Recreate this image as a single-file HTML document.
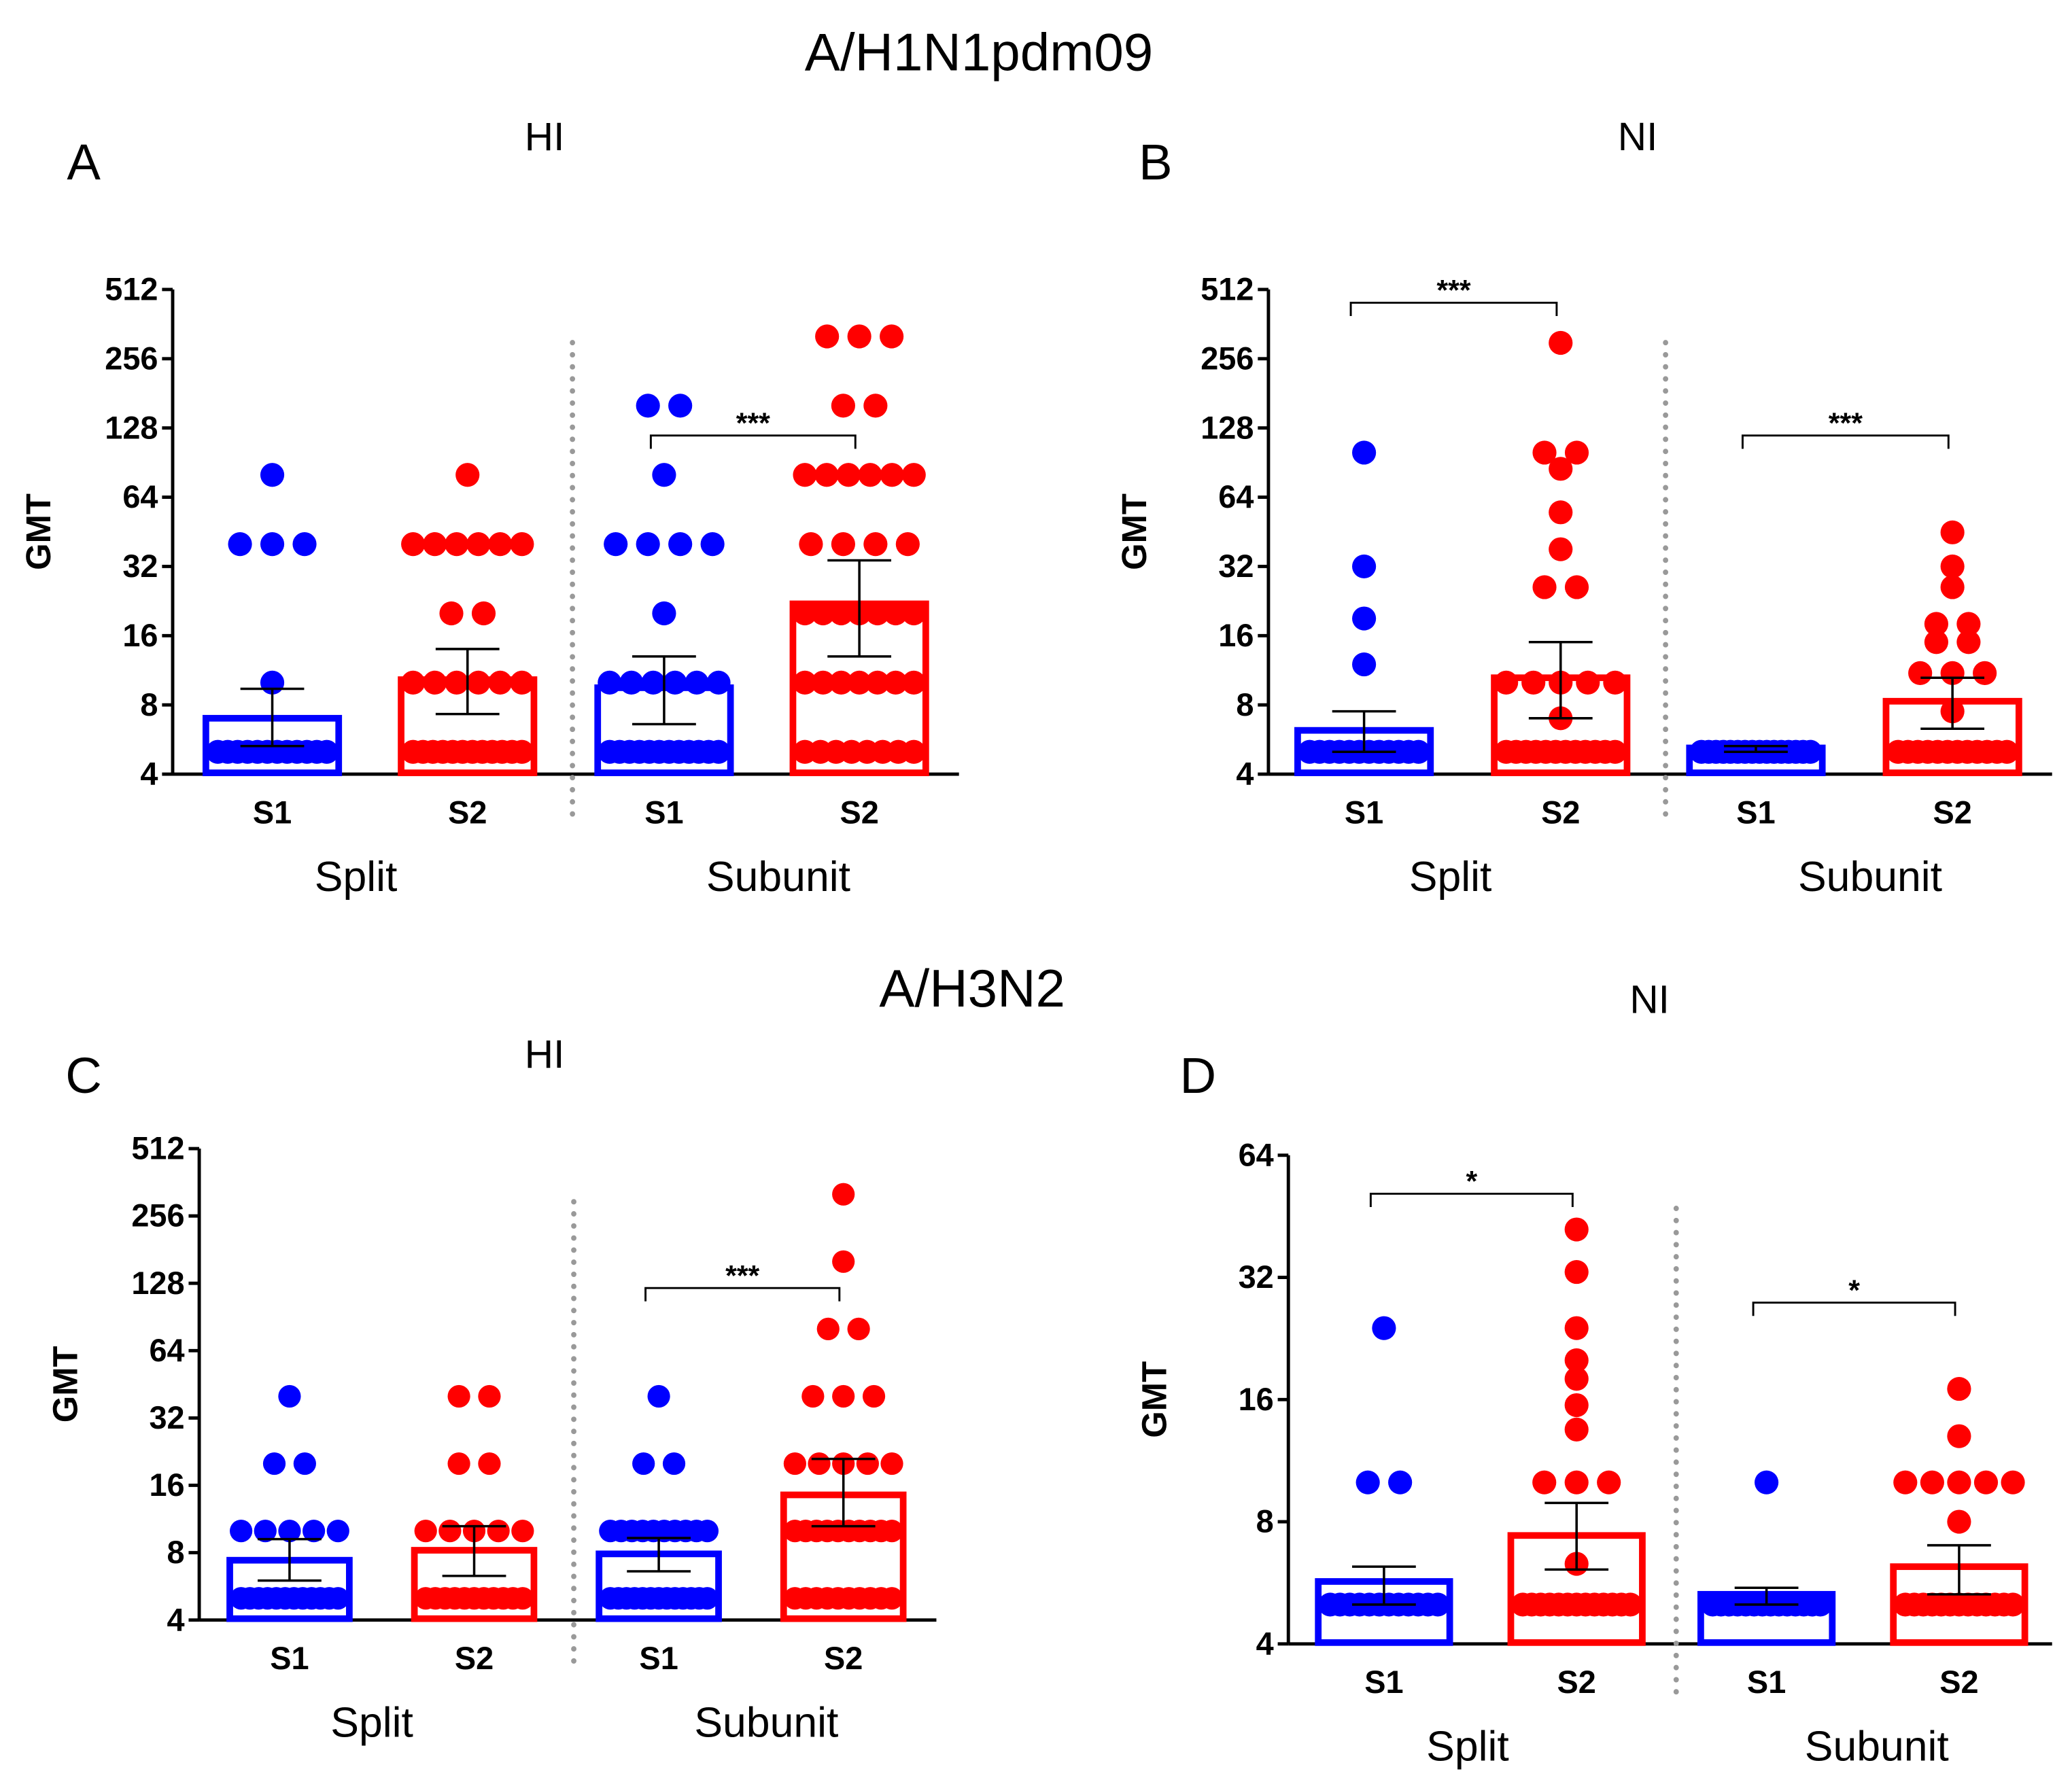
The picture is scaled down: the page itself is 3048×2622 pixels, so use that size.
<!DOCTYPE html>
<html><head><meta charset="utf-8"><style>
html,body{margin:0;padding:0;background:#fff}
svg{display:block}
text{font-family:"Liberation Sans",sans-serif}
</style></head><body>
<svg id="fig" width="3048" height="2622" viewBox="0 0 1560 1342" preserveAspectRatio="none" xmlns="http://www.w3.org/2000/svg">
<text x="737" y="53" font-size="40" text-anchor="middle">A/H1N1pdm09</text>
<text x="732" y="758" font-size="40" text-anchor="middle">A/H3N2</text>
<text x="63" y="135" font-size="38" text-anchor="middle">A</text>
<text x="870" y="135" font-size="38" text-anchor="middle">B</text>
<text x="63" y="823" font-size="38" text-anchor="middle">C</text>
<text x="902" y="823" font-size="38" text-anchor="middle">D</text>
<text x="410" y="113" font-size="30" text-anchor="middle">HI</text>
<text x="1233" y="113" font-size="30" text-anchor="middle">NI</text>
<text x="410" y="804" font-size="30" text-anchor="middle">HI</text>
<text x="1242" y="763" font-size="30" text-anchor="middle">NI</text>
</svg>
<script>
// categories
const groupLabels = ["S1","S2","S1","S2"];
const blockLabels = ["Split","Subunit"];
const colors = ["#0000ff","#ff0000","#0000ff","#ff0000"];
// tick labels
const ticksBig = [4,8,16,32,64,128,256,512];
const ticksD = [4,8,16,32,64];
// Panel A
const aMeans = [7, 10.3, 9.5, 22];
const aLow = [5.3, 7.3, 6.6, 13];
const aHigh = [9.4, 14, 13, 34];
const aDots = [
  [80,40,40,40,10,5,5,5,5,5,5,5,5,5,5,5,5],
  [80,40,40,40,40,40,40,20,20,10,10,10,10,10,10,5,5,5,5,5,5,5,5,5,5,5,5],
  [160,160,80,40,40,40,40,20,10,10,10,10,10,10,5,5,5,5,5,5,5,5,5,5,5,5],
  [320,320,320,160,160,80,80,80,80,80,80,40,40,40,40,20,20,20,20,20,20,20,10,10,10,10,10,10,10,5,5,5,5,5,5,5,5]
];
// Panel B
const bMeans = [6.2, 10.5, 5.2, 8.3];
const bLow = [5, 7, 5, 6.3];
const bHigh = [7.5, 15, 5.3, 10.5];
const bDots = [
  [100,32,19,12,5,5,5,5,5,5,5,5,5,5,5,5],
  [300,100,100,85,55,38,26,26,10,10,10,10,10,7,5,5,5,5,5,5,5,5,5,5,5,5],
  [5,5,5,5,5,5,5,5,5,5,5,5,5,5,5,5],
  [45,32,26,18,18,15,15,11,11,11,7.5,5,5,5,5,5,5,5,5,5,5,5,5]
];
// Panel C
const cMeans = [7.4, 8.2, 7.9, 14.5];
const cLow = [6, 6.3, 6.6, 10.5];
const cHigh = [9.2, 10.5, 9.3, 21];
const cDots = [
  [40,20,20,10,10,10,10,10,5,5,5,5,5,5,5,5,5,5,5,5],
  [40,40,20,20,10,10,10,10,10,5,5,5,5,5,5,5,5,5,5,5],
  [40,20,20,10,10,10,10,10,10,10,10,10,10,5,5,5,5,5,5,5,5,5,5,5,5,5],
  [320,160,80,80,40,40,40,20,20,20,20,20,10,10,10,10,10,10,10,10,10,10,5,5,5,5,5,5,5,5,5,5]
];
// Panel D
const dMeans = [5.7, 7.4, 5.3, 6.2];
const dLow = [5, 6.1, 5, 5.3];
const dHigh = [6.2, 8.9, 5.5, 7];
const dDots = [
  [24,10,10,5,5,5,5,5,5,5,5,5,5,5,5],
  [42,33,24,20,18,15.5,13.5,10,10,10,6.3,5,5,5,5,5,5,5,5,5,5,5,5,5],
  [10,5,5,5,5,5,5,5,5,5,5,5,5,5,5],
  [17,13,10,10,10,10,10,8,5,5,5,5,5,5,5,5,5,5,5,5,5]
];
const sigA = [[2,3,"***"]];
const sigB = [[0,1,"***"],[2,3,"***"]];
const sigC = [[2,3,"***"]];
const sigD = [[0,1,"*"],[2,3,"*"]];

const NS="http://www.w3.org/2000/svg";
const svg=document.getElementById('fig');
function mk(tag,attrs,parent){const e=document.createElementNS(NS,tag);for(const k in attrs)e.setAttribute(k,attrs[k]);(parent||svg).appendChild(e);return e;}

function panel(id,cfg,means,low,high,dots,sigs,ticks){
  const g=mk('g',{});
  
  
  const lmin=Math.log2(ticks[0]),lmax=Math.log2(ticks[ticks.length-1]);
  const y=v=>cfg.yb-(Math.log2(v)-lmin)/(lmax-lmin)*(cfg.yb-cfg.yt);
  const ax=mk('line',{x1:cfg.ax,y1:cfg.yt,x2:cfg.ax,y2:cfg.yb,stroke:'#000','stroke-width':2.5},g);
  
  
  const xa=mk('line',{x1:cfg.ax,y1:cfg.yb,x2:cfg.xe,y2:cfg.yb,stroke:'#000','stroke-width':2.5},g);
  
  
  ticks.forEach(t=>{
    mk('line',{x1:cfg.ax-8,y1:y(t),x2:cfg.ax,y2:y(t),stroke:'#000','stroke-width':2.5},g);
    const tx=mk('text',{x:cfg.ax-11,y:y(t)+8,'font-size':24,'font-weight':'bold','text-anchor':'end'},g);
    tx.textContent=t;
    
    
  });
  const ym=(cfg.yt+cfg.yb)/2;
  const yt=mk('text',{x:0,y:0,'font-size':26,'font-weight':'bold','text-anchor':'middle',transform:`translate(${cfg.ax-92},${ym}) rotate(-90)`},g);
  yt.textContent='GMT';
  
  
  const dv=mk('line',{x1:cfg.div,y1:cfg.dt,x2:cfg.div,y2:cfg.db,stroke:'#999','stroke-width':4,'stroke-dasharray':'0.1 9','stroke-linecap':'round'},g);
  
  
  const bw=cfg.bw;
  cfg.cx.forEach((cx,i)=>{
    const col=colors[i];
    const bar=mk('rect',{x:cx-bw/2,y:y(means[i]),width:bw,height:cfg.yb-y(means[i])-1,fill:'none',stroke:col,'stroke-width':5},g);
    
    
    const counts={};dots[i].forEach(v=>counts[v]=(counts[v]||0)+1);
    Object.keys(counts).forEach(k=>{
      const n=counts[k];const v=parseFloat(k);
      let sp=cfg.r*2.7; if(n>1&&sp*(n-1)>bw-cfg.r*2) sp=(bw-cfg.r*2)/(n-1);
      for(let j=0;j<n;j++){
        const c=mk('circle',{cx:cx+(j-(n-1)/2)*sp,cy:y(v),r:cfg.r,fill:col},g);
        
        
      }
    });
    const eg=mk('g',{stroke:'#000','stroke-width':1.8},g);
    
    
    mk('line',{x1:cx,y1:y(low[i]),x2:cx,y2:y(high[i])},eg);
    mk('line',{x1:cx-24,y1:y(low[i]),x2:cx+24,y2:y(low[i])},eg);
    mk('line',{x1:cx-24,y1:y(high[i]),x2:cx+24,y2:y(high[i])},eg);
    const lb=mk('text',{x:cx,y:cfg.yb+37,'font-size':24,'font-weight':'bold','text-anchor':'middle'},g);
    lb.textContent=groupLabels[i];
    
    
  });
  blockLabels.forEach((b,k)=>{
    const t=mk('text',{x:cfg.bx[k],y:cfg.yb+88,'font-size':32,'text-anchor':'middle'},g);
    t.textContent=b;
    
    
  });
  sigs.forEach((s,k)=>{
    const x1=cfg.cx[s[0]]-10,x2=cfg.cx[s[1]]-3,yy=cfg.sy[k];
    const sg=mk('g',{},g);
    
    
    mk('path',{d:`M${x1} ${yy+10}V${yy}H${x2}V${yy+10}`,fill:'none',stroke:'#000','stroke-width':1.5},sg);
    const t=mk('text',{x:(x1+x2)/2,y:yy-2,'font-size':22,'font-weight':'bold','text-anchor':'middle'},sg);
    t.textContent=s[2];
  });
}
panel('a',{ax:130,xe:722,yt:218,yb:583,cx:[205,352,500,647],bw:100,r:9,div:431,dt:258,db:620,bx:[268,586],sy:[328]},aMeans,aLow,aHigh,aDots,sigA,ticksBig);
panel('b',{ax:955,xe:1545,yt:218,yb:583,cx:[1027,1175,1322,1470],bw:100,r:9,div:1254,dt:258,db:620,bx:[1092,1408],sy:[228,328]},bMeans,bLow,bHigh,bDots,sigB,ticksBig);
panel('c',{ax:150,xe:705,yt:865,yb:1220,cx:[218,357,496,635],bw:90,r:8.5,div:432,dt:905,db:1255,bx:[280,577],sy:[970]},cMeans,cLow,cHigh,cDots,sigC,ticksBig);
panel('d',{ax:970,xe:1545,yt:870,yb:1238,cx:[1042,1187,1330,1475],bw:99,r:9,div:1262,dt:910,db:1275,bx:[1105,1413],sy:[899,981]},dMeans,dLow,dHigh,dDots,sigD,ticksD);
</script>
</body></html>
